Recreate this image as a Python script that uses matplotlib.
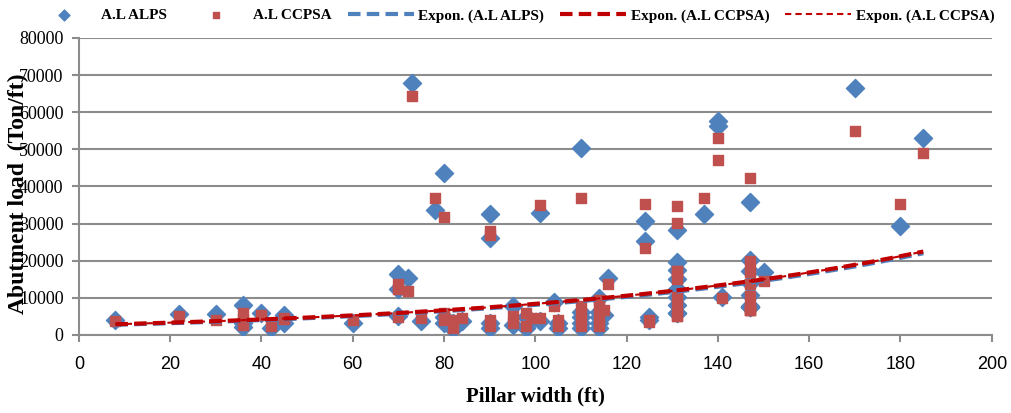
import matplotlib
matplotlib.use("Agg")
import matplotlib.pyplot as plt
import numpy as np

# pillar width (ft) and abutment load (Ton/ft) for both methods
width = [8, 22, 30, 36, 36, 36, 40, 42, 45, 45,
         60, 70, 70, 70, 72, 73, 75, 78, 80, 80,
         80, 82, 82, 84, 90, 90, 90, 90, 95, 95,
         98, 98, 99, 101, 101, 104, 105, 105, 110, 110,
         110, 110, 110, 114, 114, 114, 114, 114, 115, 116,
         124, 124, 125, 125, 131, 131, 131, 131, 131, 131,
         131, 131, 131, 137, 140, 140, 141, 147, 147, 147,
         147, 147, 147, 147, 147, 147, 150, 170, 180, 185]
alps = [3900, 5600, 5600, 8000, 3300, 2100, 5800, 1900, 5500, 3300,
        3200, 16300, 12500, 5200, 15300, 67800, 3700, 33600, 43700, 4700,
        3300, 1600, 3300, 3700, 32500, 26200, 3300, 2000, 7800, 2700,
        4700, 2000, 3700, 32800, 3700, 8800, 3300, 2000, 50300, 6200,
        4800, 3300, 2000, 10000, 6200, 4800, 3300, 2000, 5300, 15400,
        30600, 25300, 4800, 4100, 28200, 19600, 12400, 17400, 15200, 10300,
        8000, 5800, 5800, 32700, 57600, 56300, 10300, 35900, 20200, 17100,
        13900, 10800, 7700, 7400, 7400, 7400, 17000, 66400, 29300, 53100]
ccpsa = [3700, 5000, 3900, 6000, 4300, 2700, 5500, 2400, 4600, 4300,
         4100, 13800, 12300, 4900, 11900, 64500, 4500, 36800, 31800, 5800,
         4000, 1800, 4000, 4600, 28000, 27000, 4000, 2300, 5000, 3200,
         5800, 2300, 4600, 35000, 4500, 7700, 4100, 2300, 37000, 7700,
         5900, 4100, 2300, 9500, 7700, 5900, 4100, 2300, 6600, 13600,
         35400, 23400, 4100, 3600, 34700, 30200, 17300, 17300, 15100, 10200,
         7900, 5000, 5000, 37000, 53000, 47100, 10000, 42300, 19900, 16900,
         13700, 10600, 7500, 6600, 6600, 6600, 14500, 54900, 35400, 48900]

x = np.array(width, dtype=float)
xs = np.linspace(x.min(), x.max(), 200)

def expon(y):
    # exponential trend line, least squares on ln(y)
    b, a = np.polyfit(x, np.log(y), 1)
    return np.exp(a) * np.exp(b * xs)

blue = '#4F81BD'
red = '#C0504D'
dark_red = '#C00000'

fig = plt.figure(figsize=(10.11, 4.13), dpi=100)
ax = fig.add_axes([0.078, 0.189, 0.903, 0.719])

ax.scatter(x, alps, marker='D', s=85, color=blue, label='A.L ALPS', zorder=3)
ax.scatter(x, ccpsa, marker='s', s=62, color=red, label='A.L CCPSA', zorder=4)
ax.plot(xs, expon(alps), color=blue, lw=3, dashes=(3, 1.5), label='Expon. (A.L ALPS)', zorder=5)
ax.plot(xs, expon(ccpsa), color=dark_red, lw=3, dashes=(3, 1.5), label='Expon. (A.L CCPSA)', zorder=6)
ax.plot(xs, expon(ccpsa), color=dark_red, lw=1.5, dashes=(3, 2), label='Expon. (A.L CCPSA)', zorder=7)

ax.set_xlim(0, 200)
ax.set_ylim(0, 80000)
ax.set_xticks(np.arange(0, 201, 20))
ax.set_yticks(np.arange(0, 80001, 10000))
ax.grid(axis='y', color='#8C8C8C', lw=1.5)
ax.set_axisbelow(True)
for s in ['top', 'right']:
    ax.spines[s].set_visible(False)
for s in ['left', 'bottom']:
    ax.spines[s].set_color('#8C8C8C')
    ax.spines[s].set_linewidth(1.5)
ax.tick_params(color='#8C8C8C', width=1.5, length=5)
ax.tick_params(axis='y', labelsize=13, pad=6)
ax.tick_params(axis='x', labelsize=13, pad=10)
for t in ax.get_yticklabels():
    t.set_fontfamily('Liberation Serif')
for t in ax.get_xticklabels():
    t.set_fontfamily(['Liberation Sans Narrow', 'Liberation Sans'])

ax.set_xlabel('Pillar width (ft)', fontsize=15, fontweight='bold', family='Liberation Serif', labelpad=10)
fig.text(0.018, 0.53, 'Abutment load  (Ton/ft)', rotation=90, fontsize=17, fontweight='bold',
         family='Liberation Serif', ha='center', va='center')

fig.legend(loc='upper center', bbox_to_anchor=(0.507, 1.012), ncol=5, frameon=False,
           prop={'family': 'Liberation Serif', 'weight': 'bold', 'size': 11},
           handlelength=4.3, columnspacing=1.05, markerscale=0.6, handletextpad=0.3)

fig.savefig('out.png', dpi=100)
